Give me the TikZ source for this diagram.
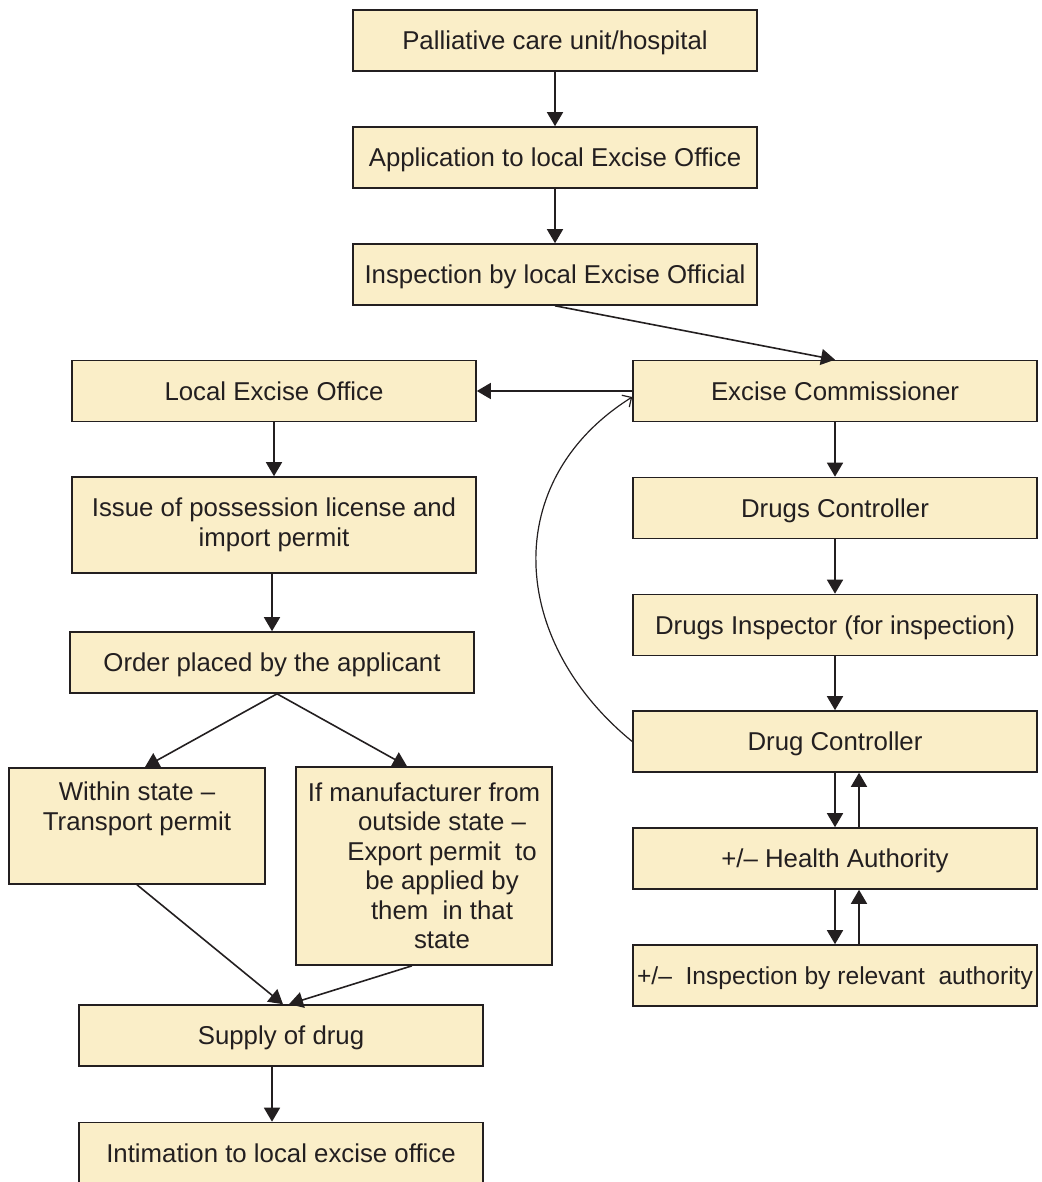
\documentclass[tikz,border=0pt]{standalone}
\usepackage{fontspec}
\setmainfont{Liberation Sans}
\usetikzlibrary{arrows.meta}
\tikzset{>={Triangle[width=16pt,length=14pt]}}
\definecolor{boxfill}{HTML}{FAEEC8}
\definecolor{ink}{HTML}{231F20}

\begin{document}
\begin{tikzpicture}[x=1pt,y=-1pt,font=\fontsize{25.8}{29.5}\selectfont]
\tikzstyle{box}=[rectangle,draw=ink,line width=1.6pt,fill=boxfill,minimum width=404pt,minimum height=61pt,inner sep=0pt,text=ink]
\tikzstyle{b}=[box,text height=18.5pt,text depth=0pt]
\tikzstyle{a}=[->,draw=ink,line width=1.6pt]
\useasboundingbox (0,0) rectangle (1041,1182);

    \node[b] (1) at (555,40.5){Palliative care unit/hospital};
    \node[b] (2) at (555,157.5){Application to local Excise Office};
    \node[b] (3) at (555,274.5){Inspection by local Excise Official};
    \node[b] (4) at (274,391){Local Excise Office};
    \node[b] (5) at (835,391){Excise Commissioner};
    \node[box, minimum height=96pt, align=center] (6) at (274,525){Issue of possession license and\\import permit};
    \node[b] (7) at (835,508){Drugs Controller};
    \node[b] (8) at (272,662.5){Order placed by the applicant};
    \node[b] (9) at (835,625){Drugs Inspector (for inspection)};
    \node[b] (10) at (835,741.5){Drug Controller};
    \node[box, minimum width=256pt, minimum height=0pt, align=center, anchor=north, inner ysep=14pt, text depth=40pt] (11) at (137,767){Within state --\\Transport permit};
    \node[box, minimum width=256pt, minimum height=198pt, align=center] (12) at (424,866){If manufacturer from\\\hspace*{36pt}outside state --\\\hspace*{36pt}Export permit~ to\\\hspace*{36pt}be applied by\\\hspace*{36pt}them~ in that\\\hspace*{36pt}state};
    \node[b] (13) at (835,858.5){+/-- Health Authority};
    \node[b, font=\fontsize{24.6}{29.5}\selectfont] (14) at (835,975.5){+/--~ Inspection by relevant~ authority};
    \node[b] (15) at (281,1035.5){Supply of drug};
    \node[b] (16) at (281,1153){Intimation to local excise office};

    \draw[a] (1) -- (2);
    \draw[a] (2) -- (3);
    \draw[a] (3.south) -- (5.north);
    \draw[a] (5) -- (4);
    \draw[a] (4) -- (6);
    \draw[a] ([xshift=-2pt]6.south) -- (8);
    \draw[a] ([xshift=5pt]8.south) -- ([xshift=8pt]11.north);
    \draw[a] ([xshift=5pt]8.south) -- ([xshift=-17pt]12.north);
    \draw[a] (11.south) -- ([xshift=2pt]15.north);
    \draw[a] ([xshift=-12pt]12.south) -- ([xshift=8pt]15.north);
    \draw[a] ([xshift=-9pt]15.south) -- ([xshift=-9pt]16.north);
    \draw[a] (5) -- (7);
    \draw[a] (7) -- (9);
    \draw[a] (9) -- (10);
    \draw[a] (10) -- (13);
    \draw[a] ([xshift=24pt]13.north) -- ([xshift=24pt]10.south);
    \draw[a] (13) -- (14);
    \draw[a] ([xshift=24pt]14.north) -- ([xshift=24pt]13.south);
    \draw[draw=ink,line width=1.2pt,-{Straight Barb[width=14pt,length=7pt]}] (10.west) .. controls (508,640) and (500,480) .. ([yshift=-6pt]5.west);

\end{tikzpicture}
\end{document}
